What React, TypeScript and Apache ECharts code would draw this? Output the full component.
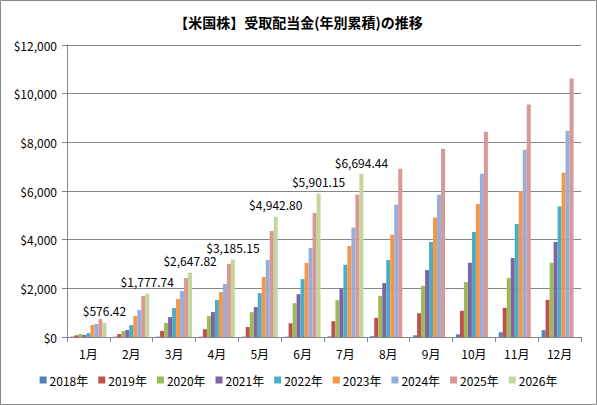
import React, { useEffect, useRef } from "react";
import * as echarts from "echarts";

const months = ["1月", "2月", "3月", "4月", "5月", "6月", "7月", "8月", "9月", "10月", "11月", "12月"];
const years = ["2018年", "2019年", "2020年", "2021年", "2022年", "2023年", "2024年", "2025年", "2026年"];

const v2018 = [15, 15, 15, 15, 15, 15, 25, 35, 70, 110, 195, 280];
const v2019 = [70, 120, 250, 320, 410, 565, 650, 790, 980, 1075, 1200, 1525];
const v2020 = [120, 240, 575, 860, 1020, 1390, 1510, 1690, 2100, 2255, 2420, 3050];
const v2021 = [85, 285, 820, 1025, 1230, 1760, 2005, 2215, 2750, 3050, 3245, 3905];
const v2022 = [160, 490, 1190, 1520, 1805, 2380, 2970, 3165, 3905, 4315, 4645, 5360];
const v2023 = [490, 860, 1560, 1850, 2465, 3040, 3740, 4205, 4905, 5470, 5995, 6750];
const v2024 = [535, 1105, 1890, 2180, 3165, 3655, 4495, 5430, 5845, 6710, 7700, 8480];
const v2025 = [735, 1690, 2425, 3005, 4355, 5100, 5845, 6915, 7740, 8440, 9555, 10625];
const v2026 = [576.42, 1777.74, 2647.82, 3185.15, 4942.8, 5901.15, 6694.44];

const yTicks = [0, 2000, 4000, 6000, 8000, 10000, 12000];

const seriesValues = [v2018, v2019, v2020, v2021, v2022, v2023, v2024, v2025, v2026];
const colors = ["#4F81BD", "#C0504D", "#9BBB59", "#8064A2", "#4BACC6", "#F79646", "#95AEDB", "#D99795", "#C3D69B"];

const FONT = "'Noto Sans CJK JP', 'Noto Sans', sans-serif";

function fmtMoney(v: number, decimals: number) {
  return "$" + v.toLocaleString("en-US", { minimumFractionDigits: decimals, maximumFractionDigits: decimals });
}

export default function App() {
  const ref = useRef<HTMLDivElement>(null);
  useEffect(() => {
    if (!ref.current) return;
    const chart = echarts.init(ref.current, null, { renderer: "svg" });
    chart.setOption({
      animation: false,
      backgroundColor: "#ffffff",
      color: colors,
      title: {
        text: "【米国株】受取配当金(年別累積)の推移",
        left: "center",
        top: 10,
        textStyle: { fontFamily: FONT, fontSize: 14, fontWeight: "bold", color: "#000" },
      },
      graphic: [
        {
          type: "rect",
          shape: { x: 0.5, y: 0.5, width: 596, height: 404 },
          style: { fill: "none", stroke: "#8a8a8a", lineWidth: 1 },
          silent: true,
        },
      ],
      grid: { left: 67, right: 16, top: 45, bottom: 68 },
      legend: {
        bottom: 14,
        left: "center",
        itemWidth: 7,
        itemHeight: 7,
        itemGap: 10,
        icon: "rect",
        textStyle: { fontFamily: FONT, fontSize: 12, color: "#000", padding: [0, 0, 0, -2] },
        data: years,
      },
      xAxis: {
        type: "category",
        data: months,
        axisLine: { lineStyle: { color: "#868686" } },
        axisTick: { show: true, length: 5, alignWithLabel: false, lineStyle: { color: "#868686" } },
        axisLabel: { fontFamily: FONT, fontSize: 12, color: "#000", margin: 10 },
      },
      yAxis: {
        type: "value",
        min: yTicks[0],
        max: yTicks[yTicks.length - 1],
        interval: 2000,
        axisLine: { show: true, lineStyle: { color: "#868686" } },
        axisTick: { show: true, length: 5, lineStyle: { color: "#868686" } },
        splitLine: { lineStyle: { color: "#868686" } },
        axisLabel: {
          fontFamily: FONT,
          fontSize: 12,
          color: "#000",
          margin: 10,
          formatter: (v: number) => fmtMoney(v, 0),
        },
      },
      series: years.map((y, i) => ({
        name: y,
        type: "bar",
        data: seriesValues[i],
        barGap: "0%",
        barCategoryGap: "16%",
        label:
          i === years.length - 1
            ? {
                show: true,
                position: "top",
                distance: 6,
                fontFamily: FONT,
                fontSize: 12,
                color: "#000",
                formatter: (p: any) => fmtMoney(p.value, 2),
              }
            : { show: false },
      })),
    });
    return () => chart.dispose();
  }, []);
  return <div ref={ref} style={{ position: "absolute", left: 0, top: 0, width: 597, height: 405 }} />;
}
